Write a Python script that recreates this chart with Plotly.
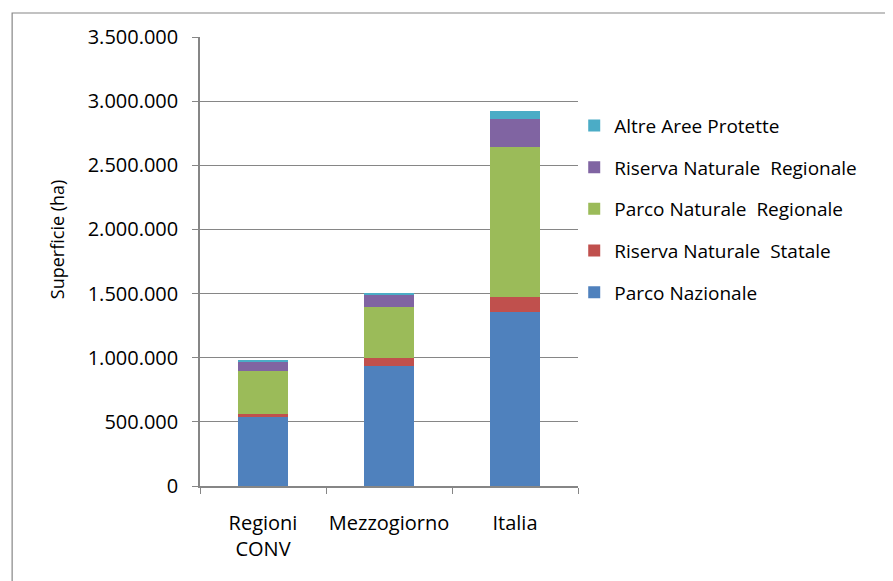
import plotly.graph_objects as go

categories = ["Regioni<br>CONV", "Mezzogiorno", "Italia"]
series_names = ["Parco Nazionale", "Riserva Naturale  Statale", "Parco Naturale  Regionale",
                "Riserva Naturale  Regionale", "Altre Aree Protette"]
parco_nazionale = [540000, 932000, 1355000]
riserva_statale = [25000, 63000, 117000]
parco_regionale = [329000, 399000, 1174000]
riserva_regionale = [78000, 102000, 211000]
altre_aree = [14000, 12000, 63000]
colors = ["#4F81BD", "#C0504D", "#9BBB59", "#8064A2", "#4BACC6"]
y_ticks = [0, 500000, 1000000, 1500000, 2000000, 2500000, 3000000, 3500000]

values = [parco_nazionale, riserva_statale, parco_regionale, riserva_regionale, altre_aree]

fig = go.Figure()
for i, (name, vals, col) in enumerate(zip(series_names, values, colors)):
    fig.add_trace(go.Bar(x=categories, y=vals, name=name, marker_color=col,
                         marker_line_width=0, legendgroup=name,
                         legendrank=1000 - i))

grid = "#868686"
FONT = "Open Sans"
fig.update_layout(
    width=885, height=573,
    margin=dict(l=192, r=315, t=29, b=95, autoexpand=False),
    barmode="stack", bargap=0.6,
    plot_bgcolor="white", paper_bgcolor="white",
    separators=",.",
    font=dict(family=FONT, color="#000000", size=19),
    showlegend=True,
    legend=dict(x=0.99, xanchor="left", y=0.845, yanchor="top",
                traceorder="grouped", tracegroupgap=14,
                font=dict(family=FONT, size=19, color="#000000"),
                bgcolor="rgba(0,0,0,0)"),
    xaxis=dict(showline=True, linecolor=grid, linewidth=1.5, ticks="outside",
               tickson="boundaries", ticklen=6, tickcolor=grid, tickangle=0,
               automargin=False,
               tickfont=dict(family=FONT, size=20), ticklabelstandoff=18),
    yaxis=dict(range=[0, 3500000], tickvals=y_ticks, tickformat=",d",
               showgrid=True, gridcolor=grid, gridwidth=1, automargin=False,
               showline=True, linecolor=grid, linewidth=1.5,
               ticks="outside", ticklen=6, tickcolor=grid,
               tickfont=dict(family=FONT, size=20), ticklabelstandoff=10,
               zeroline=False),
)
fig.add_annotation(text="Superficie (ha)", textangle=-90, xref="paper", yref="paper",
                   x=-0.378, y=0.55, xanchor="center", yanchor="middle",
                   showarrow=False, font=dict(family=FONT, size=18, color="#000000"))
fig.add_shape(type="rect", xref="paper", yref="paper", x0=-0.497, x1=2.0, y0=-1.0, y1=1.0535,
              line=dict(color=grid, width=1.2), fillcolor="rgba(0,0,0,0)", layer="below")

fig.write_html("out.html")
